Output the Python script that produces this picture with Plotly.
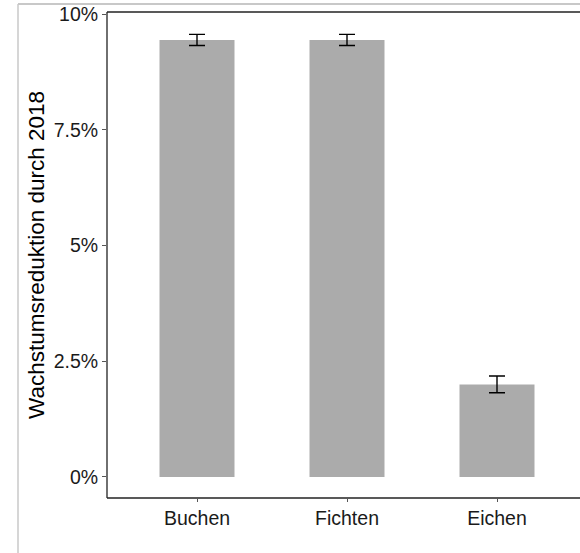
import plotly.graph_objects as go

categories = ["Buchen", "Fichten", "Eichen"]
values = [9.44, 9.44, 2.0]
errors = [0.12, 0.12, 0.18]
tick_vals = [0, 2.5, 5, 7.5, 10]
tick_text = ["0%", "2.5%", "5%", "7.5%", "10%"]
y_title = "Wachstumsreduktion durch 2018"

# figure is a little wider than the window so the panel's right edge is cut off,
# as in the reference
W, H = 592, 553
L, R, T, B = 107, 0, 12, 55
pw = W - L - R
ph = H - T - B

fig = go.Figure()
fig.add_trace(go.Bar(
    x=categories, y=values, width=0.5,
    marker=dict(color="#ababab", line=dict(width=0)),
    error_y=dict(type="data", array=errors, visible=True,
                 color="#000000", thickness=1.4, width=8),
    hoverinfo="skip",
))

font = "Liberation Sans, Arial, sans-serif"
tick_size = 19.5
axis_col = "#222222"
fig.update_layout(
    width=W, height=H,
    margin=dict(l=L, r=R, t=T, b=B, pad=0),
    paper_bgcolor="white", plot_bgcolor="white",
    showlegend=False,
    font=dict(family=font, size=tick_size, color="#1a1a1a"),
    xaxis=dict(
        type="category", range=[-0.6, -0.6 + pw / 150.0],
        showline=False, mirror=False,
        ticks="outside", ticklen=3, tickcolor="#555555", tickwidth=1,
        showgrid=False, zeroline=False,
        tickfont=dict(family=font, size=tick_size, color="#1a1a1a"),
    ),
    yaxis=dict(
        range=[-0.454, 10.044],
        tickvals=tick_vals, ticktext=tick_text,
        showline=False, mirror=False,
        ticks="outside", ticklen=4, tickcolor="#555555", tickwidth=1,
        showgrid=False, zeroline=False,
        tickfont=dict(family=font, size=tick_size, color="#1a1a1a"),
    ),
    annotations=[dict(
        text=y_title, xref="paper", yref="paper",
        x=(36 - L) / pw, y=(H - B - 255) / ph,
        xanchor="center", yanchor="middle", textangle=-90, showarrow=False,
        font=dict(family=font, size=22.5, color="#000000"),
    )],
)

# panel border: left, top, bottom
for x0, x1, y0, y1 in [(0, 0, 0, 1), (0, 1.05, 1, 1), (0, 1.05, 0, 0)]:
    fig.add_shape(type="line", xref="paper", yref="paper",
                  x0=x0, x1=x1, y0=y0, y1=y1,
                  line=dict(color=axis_col, width=1.3))

# light grey outer frame
fx = (18 - L) / pw
fy = (H - B - 4) / ph
fig.add_shape(type="line", xref="paper", yref="paper",
              x0=fx, x1=1.2, y0=fy, y1=fy,
              line=dict(color="#c8c8c8", width=2))
fig.add_shape(type="line", xref="paper", yref="paper",
              x0=fx, x1=fx, y0=fy, y1=-0.3,
              line=dict(color="#c8c8c8", width=1.5))

fig.write_html("out.html",
               config={"displayModeBar": False, "staticPlot": True},
               post_script="document.body.style.margin='0';document.body.style.overflow='hidden';")
